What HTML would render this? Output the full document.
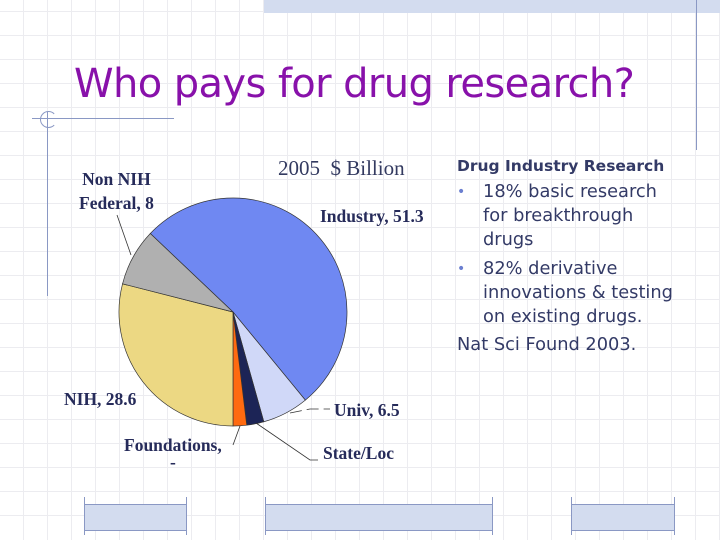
<!DOCTYPE html>
<html><head><meta charset="utf-8">
<style>
body{margin:0;width:720px;height:540px;overflow:hidden;background:#fff;font-family:"DejaVu Sans","Liberation Sans",sans-serif;}
#wrap{position:relative;width:720px;height:540px;
background-image:repeating-linear-gradient(90deg,transparent 0 23px,#ececf0 23px 24px),repeating-linear-gradient(0deg,transparent 0 23px,#ececf0 23px 24px);background-position:0 0,0 -1px;}
.abs{position:absolute;}
.t{font-family:"Liberation Serif",serif;font-weight:bold;font-size:17.5px;color:#262b5a;position:absolute;white-space:nowrap;}
</style></head><body>
<div id="wrap">
<div class="abs" style="left:264px;top:0;width:456px;height:13px;background:#d3dcef"></div>
<div class="abs" style="left:696px;top:0;width:1px;height:150px;background:#8a98c4"></div>
<div class="abs" style="left:74px;top:61px;font-size:40px;color:#8811aa;letter-spacing:-0.6px;white-space:nowrap">Who pays for drug research?</div>
<div class="abs" style="left:32px;top:118px;width:142px;height:1px;background:#8a98c4"></div>
<div class="abs" style="left:47px;top:112px;width:1px;height:184px;background:#8a98c4"></div>
<div class="abs" style="left:40px;top:111px;width:15px;height:15px;border:1px solid #8a98c4;border-radius:50%;border-right-color:transparent"></div>

<svg class="abs" style="left:0;top:0" width="720" height="540">
<g id="pie"></g>
<g stroke="#333" stroke-width="0.8" fill="none">
<polyline points="117,215 131,255"/>
<polyline points="290,413 310,409 330,409" stroke-dasharray="12,5"/>
<polyline points="256,423 310,460 318,460"/>
<polyline points="240,426 233,445"/>
</g>
</svg>
<div class="abs" style="left:278px;top:156px;font-family:'Liberation Serif',serif;font-size:21px;color:#333a60;white-space:nowrap">2005&nbsp; $ Billion</div>
<div class="t" style="left:79px;top:167px;text-align:center;line-height:24px">Non NIH<br>Federal, 8</div>
<div class="t" style="left:320px;top:206px">Industry, 51.3</div>
<div class="t" style="left:64px;top:389px">NIH, 28.6</div>
<div class="t" style="left:334px;top:400px">Univ, 6.5</div>
<div class="t" style="left:124px;top:435px">Foundations,</div>
<div class="t" style="left:170px;top:452px">-</div>
<div class="t" style="left:323px;top:443px">State/Loc</div>

<div class="abs" style="left:457px;top:155px;color:#333a66;font-size:17.8px;line-height:24px">
<div style="font-weight:bold;font-size:15.5px;line-height:22px">Drug Industry Research</div>
<div style="position:relative;padding-left:26px;margin-top:3px"><span style="position:absolute;left:0;color:#6b7fd0;font-size:14px">•</span>18% basic research<br>for breakthrough<br>drugs</div>
<div style="position:relative;padding-left:26px;margin-top:5px"><span style="position:absolute;left:0;color:#6b7fd0;font-size:14px">•</span>82% derivative<br>innovations &amp; testing<br>on existing drugs.</div>
<div style="margin-top:4px">Nat Sci Found 2003.</div>
</div>

<div class="abs" style="left:84px;top:504px;width:102px;height:25px;background:#d3dcef;border-top:1px solid #8a98c4;border-bottom:1px solid #8a98c4"></div>
<div class="abs" style="left:265px;top:504px;width:228px;height:25px;background:#d3dcef;border-top:1px solid #8a98c4;border-bottom:1px solid #8a98c4"></div>
<div class="abs" style="left:572px;top:504px;width:103px;height:25px;background:#d3dcef;border-top:1px solid #8a98c4;border-bottom:1px solid #8a98c4"></div>
<div class="abs" style="left:84px;top:497px;width:1px;height:38px;background:#8a98c4"></div>
<div class="abs" style="left:186px;top:497px;width:1px;height:38px;background:#8a98c4"></div>
<div class="abs" style="left:265px;top:497px;width:1px;height:38px;background:#8a98c4"></div>
<div class="abs" style="left:492px;top:497px;width:1px;height:38px;background:#8a98c4"></div>
<div class="abs" style="left:571px;top:497px;width:1px;height:38px;background:#8a98c4"></div>
<div class="abs" style="left:674px;top:497px;width:1px;height:38px;background:#8a98c4"></div>
</div>
<script>
const categories=["Industry","Univ","State/Loc","Foundations","NIH","Non NIH Federal"];
const values=[51.3,6.5,2.4,1.9,28.6,8];
const colors=["#6f88f2","#d0d8f8","#1c2456","#ff6a10","#ecd883","#b0b0b0"];
const cx=233,cy=312,r=114;
const total=values.reduce((a,b)=>a+b,0);
let start=Math.PI-(values.slice(0,4).reduce((a,b)=>a+b,0)/total)*2*Math.PI;
function pt(a){return [cx+r*Math.sin(a),cy-r*Math.cos(a)];}
const g=document.getElementById('pie');
values.forEach((v,i)=>{
  const a0=start,a1=start+v/total*2*Math.PI;start=a1;
  const p0=pt(a0),p1=pt(a1);
  const large=(a1-a0)>Math.PI?1:0;
  const p=document.createElementNS('http://www.w3.org/2000/svg','path');
  p.setAttribute('d',`M${cx},${cy}L${p0[0]},${p0[1]}A${r},${r} 0 ${large} 1 ${p1[0]},${p1[1]}Z`);
  p.setAttribute('fill',colors[i]);
  p.setAttribute('stroke','#333');
  p.setAttribute('stroke-width','0.7');
  
  
  g.appendChild(p);
});
</script>
</body></html>
